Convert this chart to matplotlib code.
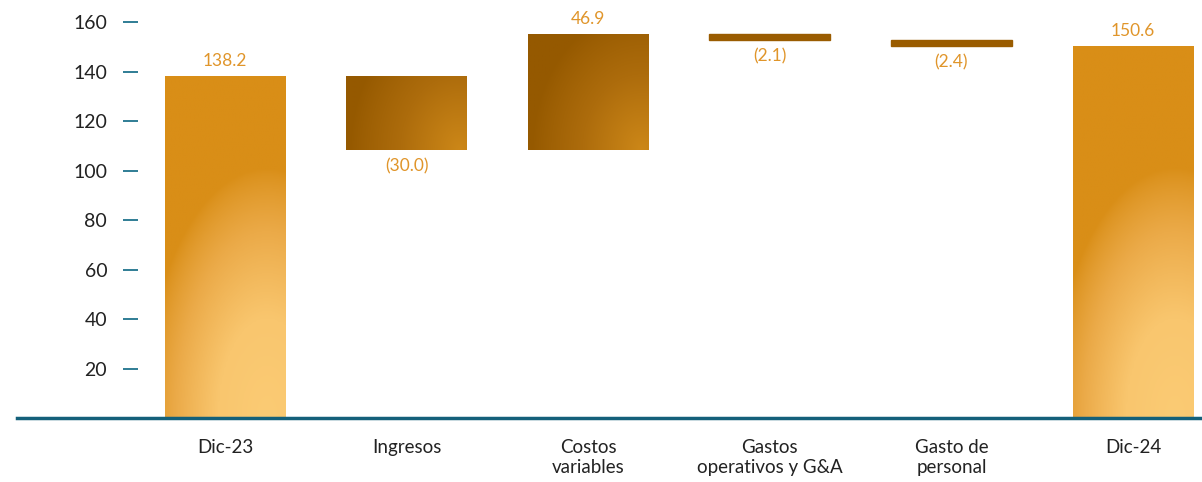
import numpy as np
import matplotlib
matplotlib.use("Agg")
import matplotlib.pyplot as plt
from matplotlib.colors import LinearSegmentedColormap

plt.rcParams['font.family'] = ['Lato', 'DejaVu Sans']

categories = ["Dic-23", "Ingresos", "Costos\nvariables", "Gastos\noperativos y G&A",
              "Gasto de\npersonal", "Dic-24"]
changes = [138.2, -30.0, 46.9, -2.1, -2.4, 150.6]
is_total = [True, False, False, False, False, True]
value_labels = ["138.2", "(30.0)", "46.9", "(2.1)", "(2.4)", "150.6"]
y_ticks = [20, 40, 60, 80, 100, 120, 140, 160]

# waterfall bottoms/heights
bottoms, heights = [], []
running = 0.0
for v, tot in zip(changes, is_total):
    if tot:
        bottoms.append(0.0)
        heights.append(v)
        running = v
    else:
        lo = min(running, running + v)
        bottoms.append(lo)
        heights.append(abs(v))
        running += v

total_cmap = LinearSegmentedColormap.from_list("tot", ["#D98E17", "#EBAA48", "#F9C66E", "#FBCB74"])
delta_cmap = LinearSegmentedColormap.from_list("dlt", ["#955900", "#AD6C0C", "#CC8718"])

fig = plt.figure(figsize=(12.02, 4.82), dpi=100)
ax = fig.add_axes([130 / 1202, 64 / 482, 1072 / 1202, 418 / 482])
x = np.arange(len(categories))
xlim = (-0.523, 5.38)
ylim = (0, 169)
ax.set_xlim(*xlim)
ax.set_ylim(*ylim)

bars = ax.bar(x, heights, bottom=bottoms, width=0.666, color="#D98E17", zorder=2)

# pixel scale for gradient shaping
px_per_x = 1072 / (xlim[1] - xlim[0])
px_per_y = 418 / (ylim[1] - ylim[0])

for i, b in enumerate(bars):
    x0, y0 = b.get_x(), b.get_y()
    w, h = b.get_width(), b.get_height()
    wp, hp = w * px_per_x, h * px_per_y
    if is_total[i]:
        cmap, R, cx, p, k = total_cmap, 250.0, 0.85, 0.8, 2.0
    else:
        cmap, R, cx, p, k = delta_cmap, 140.0, 0.95, 0.9, 1.25
        if hp < 8:
            b.set_color("#9A5C00")
            continue
    b.set_facecolor("none")
    gx = np.linspace(0, wp, 60)
    gy = np.linspace(hp, 0, 120)  # row 0 = top
    XX, YY = np.meshgrid(gx, gy)
    d = np.hypot(k * (XX - cx * wp), YY)
    t = np.clip(1 - d / R, 0, 1) ** p
    im = ax.imshow(t, cmap=cmap, vmin=0, vmax=1, extent=(x0, x0 + w, y0, y0 + h),
                   aspect="auto", origin="upper", zorder=2, interpolation="bilinear")
    im.set_clip_path(b)

ax.set_xlim(*xlim)
ax.set_ylim(*ylim)

# value labels
for i, b in enumerate(bars):
    top = b.get_y() + b.get_height()
    if changes[i] >= 0:
        ax.annotate(value_labels[i], (b.get_x() + b.get_width() / 2, top),
                    xytext=(0, 5), textcoords="offset points", ha="center", va="bottom",
                    fontsize=12.5, color="#E0952A")
    else:
        ax.annotate(value_labels[i], (b.get_x() + b.get_width() / 2, b.get_y()),
                    xytext=(0, -6), textcoords="offset points", ha="center", va="top",
                    fontsize=12.5, color="#E0952A")

for s in ax.spines.values():
    s.set_visible(False)

ax.axhline(0, xmin=-0.1054, xmax=1, color="#14607A", lw=2.5, clip_on=False, zorder=3)

ax.set_yticks(y_ticks)
ax.set_yticklabels([str(t) for t in y_ticks])
ax.tick_params(axis="y", direction="inout", length=10.8, width=1.4, color="#2F7D95",
               pad=11, labelsize=14, labelcolor="#222222")
ax.set_xticks(x)
ax.set_xticklabels(categories)
ax.tick_params(axis="x", length=0, pad=15, labelsize=13.5, labelcolor="#222222")

fig.savefig("out.png", dpi=100)
